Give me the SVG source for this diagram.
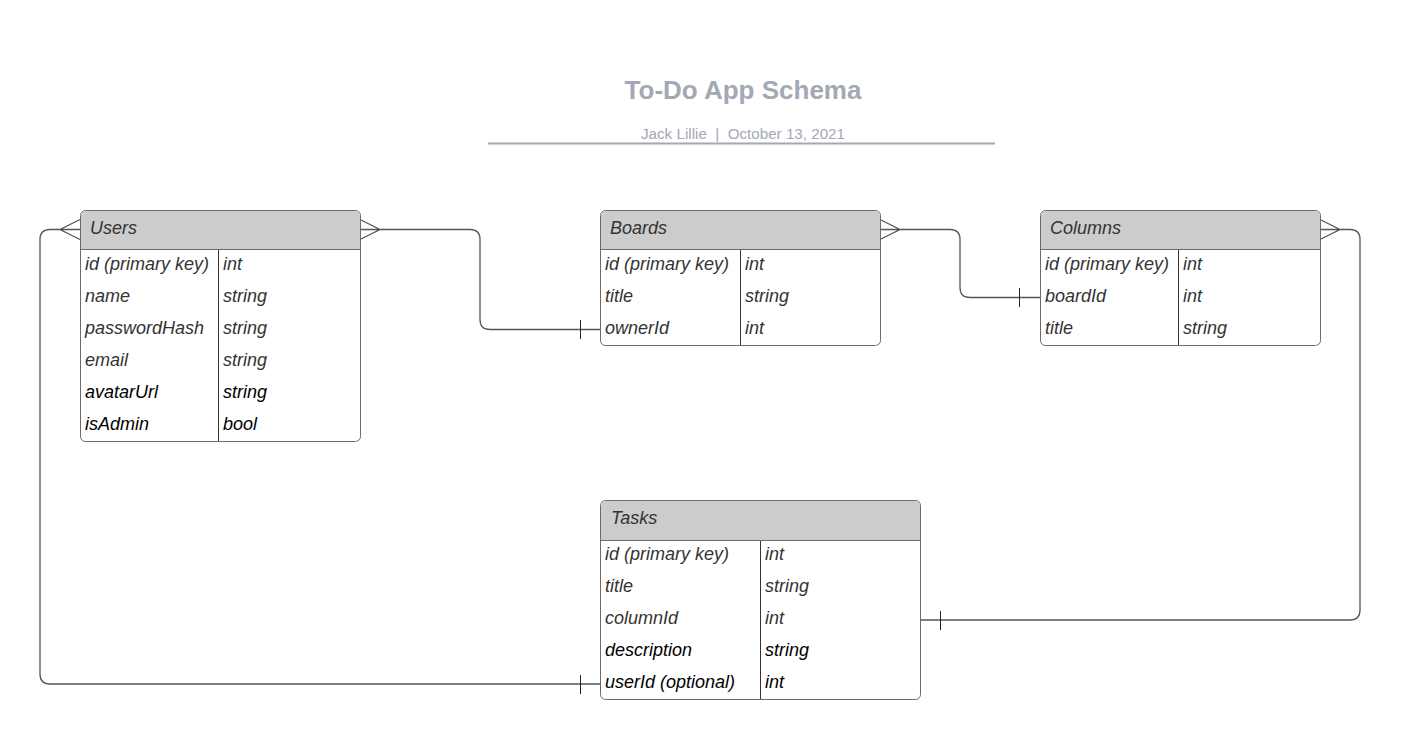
<svg xmlns="http://www.w3.org/2000/svg" width="1401" height="740" viewBox="0 0 1401 740">
<style>
.hdr{fill:#cccccc}
.box{fill:#ffffff;stroke:#6b6b6b;stroke-width:1}
.div{stroke:#333;stroke-width:1}
.hl{fill:none;stroke:#6b6b6b;stroke-width:1}
.t{font-family:"Liberation Sans",Arial,sans-serif;font-size:18px;font-style:italic;fill:#333333}
.k{fill:#000000}
.con{fill:none;stroke:#555555;stroke-width:1.3}
.bar{stroke:#222;stroke-width:1}
.title{font-family:"Liberation Sans",Arial,sans-serif;font-size:26px;font-weight:bold;fill:#a3a8b4}
.sub{font-family:"Liberation Sans",Arial,sans-serif;font-size:15.2px;fill:#a3a8b4;white-space:pre}
</style>
<rect width="1401" height="740" fill="#ffffff"/>
<g id="title">
<text class="title" x="743" y="99" text-anchor="middle">To-Do App Schema</text>
<text class="sub" x="743" y="139" text-anchor="middle" xml:space="preserve">Jack Lillie  |  October 13, 2021</text>
<line x1="488" y1="143.5" x2="995" y2="143.5" stroke="#a3a8b4" stroke-width="2"/>
</g>
<g id="connectors">
<path class="con" d="M380 229.5 H470 Q480 229.5 480 239.5 V319.5 Q480 329.5 490 329.5 H600"/>
<path class="con" d="M360 219.5 L380 229.5 L360 239.5 M360 229.5 H380"/>
<line class="bar" x1="580.5" y1="320" x2="580.5" y2="339"/>
<path class="con" d="M900 229.5 H950 Q960 229.5 960 239.5 V287.5 Q960 297.5 970 297.5 H1040"/>
<path class="con" d="M880 219.5 L900 229.5 L880 239.5 M880 229.5 H900"/>
<line class="bar" x1="1019.5" y1="288" x2="1019.5" y2="307"/>
<path class="con" d="M1340 229.5 H1350 Q1360 229.5 1360 239.5 V610 Q1360 620 1350 620 H920"/>
<path class="con" d="M1320 219.5 L1340 229.5 L1320 239.5 M1320 229.5 H1340"/>
<line class="bar" x1="940.5" y1="611" x2="940.5" y2="630"/>
<path class="con" d="M60 229.5 H50 Q40 229.5 40 239.5 V674 Q40 684 50 684 H600"/>
<path class="con" d="M80 219.5 L60 229.5 L80 239.5 M80 229.5 H60"/>
<line class="bar" x1="580.5" y1="675" x2="580.5" y2="694"/>
</g>
<g id="users">
<rect class="box" x="80.5" y="210.5" width="280" height="231" rx="5"/>
<path class="hdr" d="M85.5 211 H355.5 Q360 211 360 215.5 V249 H81 V215.5 Q81 211 85.5 211 Z"/>
<line class="hl" x1="80.5" y1="249.5" x2="360.5" y2="249.5"/>
<line class="div" x1="218.5" y1="250" x2="218.5" y2="441"/>
<text class="t" x="90" y="234">Users</text>
<text class="t" x="85" y="270">id (primary key)</text><text class="t" x="223" y="270">int</text>
<text class="t" x="85" y="302">name</text><text class="t" x="223" y="302">string</text>
<text class="t" x="85" y="334">passwordHash</text><text class="t" x="223" y="334">string</text>
<text class="t" x="85" y="366">email</text><text class="t" x="223" y="366">string</text>
<text class="t k" x="85" y="398">avatarUrl</text><text class="t k" x="223" y="398">string</text>
<text class="t k" x="85" y="430">isAdmin</text><text class="t k" x="223" y="430">bool</text>
</g>
<g id="boards">
<rect class="box" x="600.5" y="210.5" width="280" height="135" rx="5"/>
<path class="hdr" d="M605.5 211 H875.5 Q880 211 880 215.5 V249 H601 V215.5 Q601 211 605.5 211 Z"/>
<line class="hl" x1="600.5" y1="249.5" x2="880.5" y2="249.5"/>
<line class="div" x1="740.5" y1="250" x2="740.5" y2="345"/>
<text class="t" x="610" y="234">Boards</text>
<text class="t" x="605" y="270">id (primary key)</text><text class="t" x="745" y="270">int</text>
<text class="t" x="605" y="302">title</text><text class="t" x="745" y="302">string</text>
<text class="t" x="605" y="334">ownerId</text><text class="t" x="745" y="334">int</text>
</g>
<g id="columns">
<rect class="box" x="1040.5" y="210.5" width="280" height="135" rx="5"/>
<path class="hdr" d="M1045.5 211 H1315.5 Q1320 211 1320 215.5 V249 H1041 V215.5 Q1041 211 1045.5 211 Z"/>
<line class="hl" x1="1040.5" y1="249.5" x2="1320.5" y2="249.5"/>
<line class="div" x1="1178.5" y1="250" x2="1178.5" y2="345"/>
<text class="t" x="1050" y="234">Columns</text>
<text class="t" x="1045" y="270">id (primary key)</text><text class="t" x="1183" y="270">int</text>
<text class="t" x="1045" y="302">boardId</text><text class="t" x="1183" y="302">int</text>
<text class="t" x="1045" y="334">title</text><text class="t" x="1183" y="334">string</text>
</g>
<g id="tasks">
<rect class="box" x="600.5" y="500.5" width="320" height="199" rx="5"/>
<path class="hdr" d="M605.5 501 H915.5 Q920 501 920 505.5 V540 H601 V505.5 Q601 501 605.5 501 Z"/>
<line class="hl" x1="600.5" y1="540.5" x2="920.5" y2="540.5"/>
<line class="div" x1="760.5" y1="541" x2="760.5" y2="699"/>
<text class="t" x="611" y="524">Tasks</text>
<text class="t" x="605" y="560">id (primary key)</text><text class="t" x="765" y="560">int</text>
<text class="t" x="605" y="592">title</text><text class="t" x="765" y="592">string</text>
<text class="t" x="605" y="624">columnId</text><text class="t" x="765" y="624">int</text>
<text class="t k" x="605" y="656">description</text><text class="t k" x="765" y="656">string</text>
<text class="t k" x="605" y="688">userId (optional)</text><text class="t k" x="765" y="688">int</text>
</g>
</svg>
